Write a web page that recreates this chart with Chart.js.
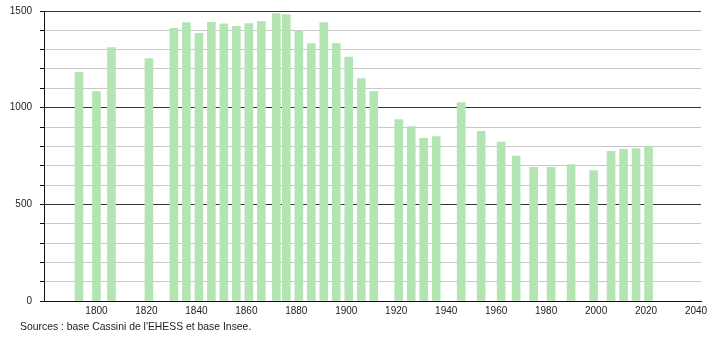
<!DOCTYPE html>
<html>
<head>
<meta charset="utf-8">
<script src="https://cdn.jsdelivr.net/npm/chart.js@4"></script>
<style>
  html, body { margin: 0; padding: 0; background: #fff; }
  #wrap { position: relative; width: 710px; height: 340px; }
  #source { position: absolute; left: 20px; top: 321px; font: 10.4px "Liberation Sans", Arial, sans-serif; color: #222; white-space: nowrap; }
</style>
</head>
<body>
<div id="wrap">
  <canvas id="c" width="710" height="340"></canvas>
  <div id="source">Sources : base Cassini de l'EHESS et base Insee.</div>
</div>
<script>
const years = [1793, 1800, 1806, 1821, 1831, 1836, 1841, 1846, 1851, 1856, 1861, 1866, 1872, 1876, 1881, 1886, 1891, 1896, 1901, 1906, 1911, 1921, 1926, 1931, 1936, 1946, 1954, 1962, 1968, 1975, 1982, 1990, 1999, 2006, 2011, 2016, 2021];
const population = [1183, 1083, 1311, 1254, 1411, 1440, 1385, 1442, 1433, 1421, 1435, 1446, 1487, 1482, 1397, 1332, 1440, 1332, 1262, 1150, 1083, 938, 902, 841, 851, 1026, 877, 822, 749, 691, 691, 706, 675, 774, 785, 789, 801];
const xTicks = [1800, 1820, 1840, 1860, 1880, 1900, 1920, 1940, 1960, 1980, 2000, 2020, 2040];
const yLabels = [0, 500, 1000, 1500];

const points = years.map((y, i) => ({ x: y, y: population[i] }));
const FONT = { family: '"Liberation Sans", Arial, sans-serif', size: 10 };

new Chart(document.getElementById('c'), {
  type: 'bar',
  data: {
    datasets: [{
      data: points,
      backgroundColor: 'rgb(179,229,179)',
      borderWidth: 0,
      barThickness: 8
    }]
  },
  options: {
    responsive: false,
    animation: false,
    events: [],
    layout: { padding: { left: 0, top: 11, right: 9, bottom: 0 } },
    plugins: { legend: { display: false }, tooltip: { enabled: false } },
    scales: {
      x: {
        type: 'linear',
        min: 1779,
        max: 2042,
        offset: false,
        afterBuildTicks: (s) => { s.ticks = xTicks.map(v => ({ value: v })); },
        afterFit: (s) => { s.height = 39; s.paddingLeft = 0; s.paddingRight = 0; },
        ticks: { font: FONT, color: '#222', padding: 4, maxRotation: 0, autoSkip: false,
                 callback: (v) => String(v) },
        grid: { drawOnChartArea: false, drawTicks: false },
        border: { display: true, color: '#111', width: 1 }
      },
      y: {
        min: 0,
        max: 1500,
        afterBuildTicks: (s) => {
          const t = [];
          for (let v = 0; v <= 1500; v += 100) t.push({ value: v });
          s.ticks = t;
        },
        afterFit: (s) => { s.width = 44; s.paddingTop = 0; s.paddingBottom = 0; },
        ticks: { font: FONT, color: '#222', padding: 8,
                 callback: (v) => yLabels.includes(v) ? String(v) : '' },
        grid: {
          color: (ctx) => (ctx.tick && ctx.tick.value % 500 === 0) ? '#333' : '#c8c8c8',
          tickColor: '#111',
          tickLength: 4,
          lineWidth: 1
        },
        border: { display: true, color: '#111', width: 1 }
      }
    }
  }
});
</script>
</body>
</html>
